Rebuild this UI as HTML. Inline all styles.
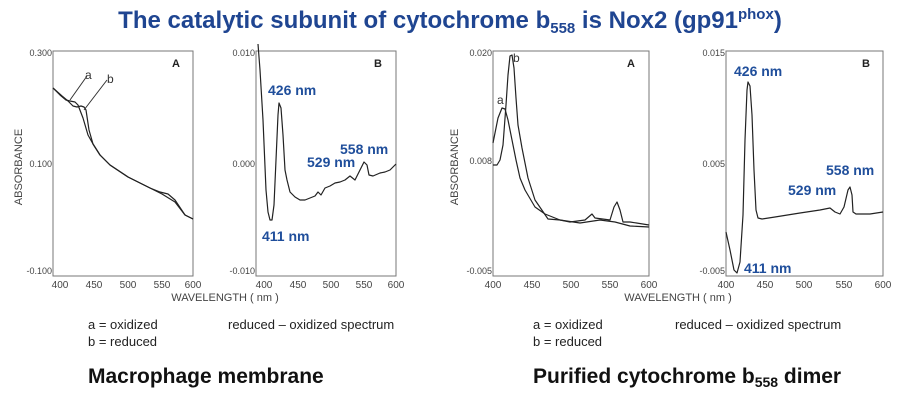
<!DOCTYPE html>
<html><head><style>
body{margin:0;background:#fff;}
svg text{font-family:"Liberation Sans","DejaVu Sans",sans-serif;}
</style></head><body>
<svg width="900" height="400" viewBox="0 0 900 400" xmlns="http://www.w3.org/2000/svg">
<text x="450" y="28" text-anchor="middle" font-size="24" font-weight="bold" fill="#1f4591">The catalytic subunit of cytochrome b<tspan font-size="15" dy="5">558</tspan><tspan dy="-5"> is Nox2 (gp91</tspan><tspan font-size="15" dy="-9">phox</tspan><tspan dy="9">)</tspan></text>

<g fill="none" stroke="#777" stroke-width="1">
<rect x="53" y="51" width="140" height="225"/>
<rect x="256" y="51" width="140" height="225"/>
<rect x="493" y="51" width="156" height="225"/>
<rect x="726" y="51" width="157" height="225"/>
</g>
<g font-size="9" fill="#444">
<text x="52" y="56" text-anchor="end">0.300</text>
<text x="52" y="167" text-anchor="end">0.100</text>
<text x="52" y="274" text-anchor="end">-0.100</text>
<text x="255" y="56" text-anchor="end">0.010</text>
<text x="255" y="167" text-anchor="end">0.000</text>
<text x="255" y="274" text-anchor="end">-0.010</text>
<text x="492" y="56" text-anchor="end">0.020</text>
<text x="492" y="164" text-anchor="end">0.008</text>
<text x="492" y="274" text-anchor="end">-0.005</text>
<text x="725" y="56" text-anchor="end">0.015</text>
<text x="725" y="167" text-anchor="end">0.005</text>
<text x="725" y="274" text-anchor="end">-0.005</text>
</g>
<g font-size="10" fill="#444" text-anchor="middle">
<text x="60" y="288">400</text><text x="94" y="288">450</text><text x="128" y="288">500</text><text x="162" y="288">550</text><text x="193" y="288">600</text>
<text x="264" y="288">400</text><text x="298" y="288">450</text><text x="331" y="288">500</text><text x="364" y="288">550</text><text x="396" y="288">600</text>
<text x="493" y="288">400</text><text x="532" y="288">450</text><text x="571" y="288">500</text><text x="610" y="288">550</text><text x="649" y="288">600</text>
<text x="726" y="288">400</text><text x="765" y="288">450</text><text x="804" y="288">500</text><text x="844" y="288">550</text><text x="883" y="288">600</text>
</g>
<g font-size="11" fill="#444" text-anchor="middle">
<text x="225" y="301">WAVELENGTH ( nm )</text>
<text x="678" y="301">WAVELENGTH ( nm )</text>
<text transform="translate(22,167) rotate(-90)">ABSORBANCE</text>
<text transform="translate(458,167) rotate(-90)">ABSORBANCE</text>
</g>
<g font-size="11" font-weight="bold" fill="#222" text-anchor="middle">
<text x="176" y="67">A</text><text x="378" y="67">B</text>
<text x="631" y="67">A</text><text x="866" y="67">B</text>
</g>
<g fill="none" stroke="#222" stroke-width="1.2" stroke-linejoin="round">
<path d="M53,88 L60,95 L66,100 L70,101 L75,102 L78,105 L83,118 L88,135 L93,144 L100,155 L110,165 L128,177 L150,188 L162,194 L175,202 L185,215 L193,219"/>
<path d="M53,88 L62,96 L68,101 L73,106 L77,107 L81,106 L84,107 L86,110 L89,130 L93,144 L100,155 L110,165 L128,177 L150,188 L160,192 L168,194 L175,200 L185,215 L193,219"/>
<path d="M87,76 L70,100 M107,80 L84,110" stroke="#333" stroke-width="1"/>
<path d="M258,44 L260,70 L263,120 L266,190 L268,212 L270,220 L272,220 L274,205 L276,160 L278,115 L279,103 L281,108 L283,135 L285,170 L287,180 L290,192 L295,197 L300,200 L305,200 L310,198 L315,196 L318,192 L321,195 L325,188 L330,186 L335,183 L340,182 L345,180 L350,176 L355,180 L360,170 L364,162 L367,165 L369,175 L373,176 L380,173 L385,172 L390,170 L396,164"/>
<path d="M493,143 L498,118 L502,108 L505,109 L508,120 L512,140 L516,160 L520,178 L525,190 L535,207 L545,214 L560,220 L580,223 L600,220 L615,222 L630,226 L649,227"/>
<path d="M493,165 L497,165 L500,160 L503,145 L506,105 L508,75 L510,56 L512,55 L514,68 L516,98 L518,125 L522,148 L528,178 L535,200 L548,219 L560,220 L570,222 L585,220 L592,214 L595,218 L610,220 L614,207 L617,202 L620,210 L623,222 L630,222 L649,225"/>
<path d="M726,232 L730,250 L734,270 L737,273 L740,262 L743,215 L745,140 L747,90 L748,82 L750,86 L752,115 L754,170 L756,210 L758,218 L762,219 L775,217 L800,213 L820,210 L830,208 L835,212 L840,214 L844,207 L848,190 L850,187 L852,195 L853,212 L856,214 L870,214 L883,212"/>
</g>
<g font-size="12" fill="#333">
<text x="85" y="79">a</text><text x="107" y="83">b</text>
<text x="497" y="104">a</text><text x="513" y="62">b</text>
</g>
<g font-size="14" font-weight="bold" fill="#1f4e9b">
<text x="268" y="95">426 nm</text><text x="262" y="241">411 nm</text>
<text x="307" y="167">529 nm</text><text x="340" y="154">558 nm</text>
<text x="734" y="76">426 nm</text><text x="744" y="273">411 nm</text>
<text x="788" y="195">529 nm</text><text x="826" y="175">558 nm</text>
</g>
<g font-size="13" fill="#222">
<text x="88" y="329">a = oxidized</text><text x="88" y="346">b = reduced</text>
<text x="228" y="329">reduced – oxidized spectrum</text>
<text x="533" y="329">a = oxidized</text><text x="533" y="346">b = reduced</text>
<text x="675" y="329">reduced – oxidized spectrum</text>
</g>
<g font-size="21" font-weight="bold" fill="#111">
<text x="88" y="383">Macrophage membrane</text>
<text x="533" y="383">Purified cytochrome b<tspan font-size="14" dy="4">558</tspan><tspan dy="-4"> dimer</tspan></text>
</g>
</svg>
</body></html>
